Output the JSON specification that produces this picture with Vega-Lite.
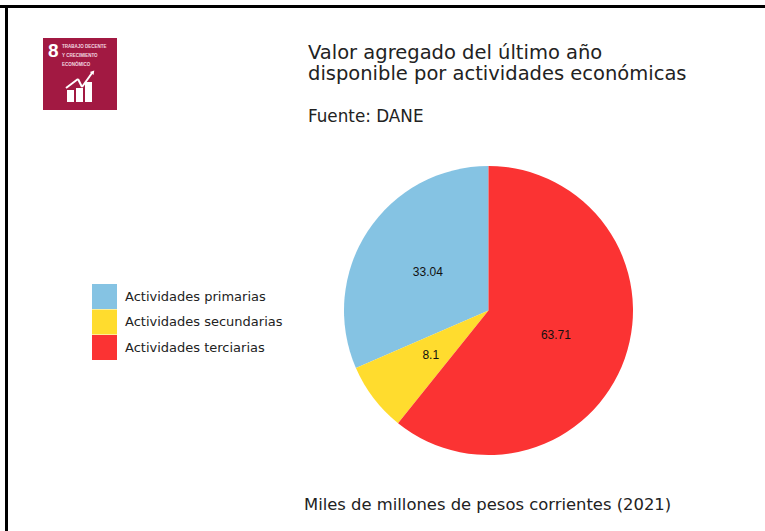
{
"$schema":"https://vega.github.io/schema/vega-lite/v6.json",
"width":765,"height":531,"padding":0,"autosize":"none",
"background":"white",
"config":{"view":{"stroke":null},"axis":{"disable":true},"font":"DejaVu Sans"},
"title":{"text":["Valor agregado del último año","disponible por actividades económicas"],"subtitle":"Fuente: DANE","anchor":"start","frame":"group","dx":308,"offset":-127,"font":"DejaVu Sans","fontSize":19.5,"fontWeight":"normal","color":"#222222","lineHeight":21,"subtitleFont":"DejaVu Sans","subtitleFontSize":16.8,"subtitleColor":"#222222","subtitlePadding":25},
"layer":[
{"data":{"values":[{}]},"mark":{"type":"rule","stroke":"black","strokeWidth":3},"encoding":{"x":{"datum":0,"type":"quantitative","scale":{"domain":[0,765],"range":[0,765],"nice":false,"zero":false}},"x2":{"datum":765},"y":{"datum":6.5,"type":"quantitative","scale":{"domain":[0,531],"range":[0,531],"nice":false,"zero":false}},"y2":{"datum":6.5}}},
{"data":{"values":[{}]},"mark":{"type":"rule","stroke":"black","strokeWidth":3},"encoding":{"x":{"datum":6.5,"type":"quantitative"},"x2":{"datum":6.5},"y":{"datum":5,"type":"quantitative"},"y2":{"datum":531}}},
{"data":{"values":[{}]},"mark":{"type":"rect","color":"#A21942"},"encoding":{"x":{"datum":43,"type":"quantitative"},"x2":{"datum":117},"y":{"datum":38,"type":"quantitative"},"y2":{"datum":110}}},
{"data":{"values":[{}]},"mark":{"type":"text","color":"white","font":"Liberation Sans","fontWeight":"bold","fontSize":19,"align":"left","baseline":"alphabetic"},"encoding":{"text":{"datum":"8"},"x":{"datum":48,"type":"quantitative"},"y":{"datum":57,"type":"quantitative"}}},
{"data":{"values":[{}]},"mark":{"type":"text","color":"#F3D9E0","font":"Liberation Sans","fontWeight":"bold","fontSize":4.5,"align":"left","baseline":"alphabetic"},"encoding":{"text":{"datum":"TRABAJO DECENTE"},"x":{"datum":62,"type":"quantitative"},"y":{"datum":48,"type":"quantitative"}}},
{"data":{"values":[{}]},"mark":{"type":"text","color":"#F3D9E0","font":"Liberation Sans","fontWeight":"bold","fontSize":4.5,"align":"left","baseline":"alphabetic"},"encoding":{"text":{"datum":"Y CRECIMIENTO"},"x":{"datum":62,"type":"quantitative"},"y":{"datum":57,"type":"quantitative"}}},
{"data":{"values":[{}]},"mark":{"type":"text","color":"#F3D9E0","font":"Liberation Sans","fontWeight":"bold","fontSize":4.5,"align":"left","baseline":"alphabetic"},"encoding":{"text":{"datum":"ECONÓMICO"},"x":{"datum":62,"type":"quantitative"},"y":{"datum":66,"type":"quantitative"}}},
{"data":{"values":[{}]},"mark":{"type":"rect","color":"white"},"encoding":{"x":{"datum":67,"type":"quantitative"},"x2":{"datum":74},"y":{"datum":90,"type":"quantitative"},"y2":{"datum":102}}},
{"data":{"values":[{}]},"mark":{"type":"rect","color":"white"},"encoding":{"x":{"datum":76,"type":"quantitative"},"x2":{"datum":83},"y":{"datum":88,"type":"quantitative"},"y2":{"datum":102}}},
{"data":{"values":[{}]},"mark":{"type":"rect","color":"white"},"encoding":{"x":{"datum":85,"type":"quantitative"},"x2":{"datum":92},"y":{"datum":82,"type":"quantitative"},"y2":{"datum":102}}},
{"data":{"values":[{}]},"mark":{"type":"rule","stroke":"white","strokeWidth":2},"encoding":{"x":{"datum":66,"type":"quantitative"},"x2":{"datum":78},"y":{"datum":88,"type":"quantitative"},"y2":{"datum":79}}},
{"data":{"values":[{}]},"mark":{"type":"rule","stroke":"white","strokeWidth":2},"encoding":{"x":{"datum":78,"type":"quantitative"},"x2":{"datum":82},"y":{"datum":79,"type":"quantitative"},"y2":{"datum":87}}},
{"data":{"values":[{}]},"mark":{"type":"rule","stroke":"white","strokeWidth":2},"encoding":{"x":{"datum":82,"type":"quantitative"},"x2":{"datum":92},"y":{"datum":87,"type":"quantitative"},"y2":{"datum":73}}},
{"data":{"values":[{}]},"mark":{"type":"point","shape":"triangle-up","filled":true,"color":"white","opacity":1,"size":22,"angle":40},"encoding":{"x":{"datum":93,"type":"quantitative"},"y":{"datum":72,"type":"quantitative"}}},
{"data":{"values":[{}]},"mark":{"type":"text","color":"#222222","fontSize":16.4,"align":"left","baseline":"alphabetic","font":"DejaVu Sans"},"encoding":{"text":{"datum":"Miles de millones de pesos corrientes (2021)"},"x":{"datum":304,"type":"quantitative"},"y":{"datum":510,"type":"quantitative"}}},
{"data":{"values":[{"actividad":"Actividades primarias","valor":33.04},{"actividad":"Actividades secundarias","valor":8.1},{"actividad":"Actividades terciarias","valor":63.71}]},
"mark":{"type":"arc","outerRadius":144.5,"innerRadius":0},
"encoding":{"x":{"datum":488.5,"type":"quantitative"},"y":{"datum":310.5,"type":"quantitative"},
"theta":{"field":"valor","type":"quantitative","stack":true},
"order":{"field":"actividad","sort":"descending"},
"color":{"field":"actividad","type":"nominal","scale":{"domain":["Actividades primarias","Actividades secundarias","Actividades terciarias"],"range":["#85C3E3","#FFDC2E","#FB3333"]},
"legend":{"title":null,"orient":"none","legendX":92,"legendY":284,"symbolType":"square","symbolSize":625,"symbolStrokeColor":"transparent","symbolStrokeWidth":0,"symbolOpacity":1,"labelFont":"DejaVu Sans","labelFontSize":13,"labelColor":"#222222","labelOffset":8,"rowPadding":0.5}}}},
{"data":{"values":[{"actividad":"Actividades primarias","valor":33.04},{"actividad":"Actividades secundarias","valor":8.1},{"actividad":"Actividades terciarias","valor":63.71}]},
"mark":{"type":"text","radius":72,"dy":1.5,"font":"Liberation Sans","fontSize":12,"color":"#111111"},
"encoding":{"x":{"datum":488,"type":"quantitative"},"y":{"datum":310,"type":"quantitative"},
"theta":{"field":"valor","type":"quantitative","stack":true},
"order":{"field":"actividad","sort":"descending"},
"text":{"field":"valor","type":"quantitative"}}}
]
}
